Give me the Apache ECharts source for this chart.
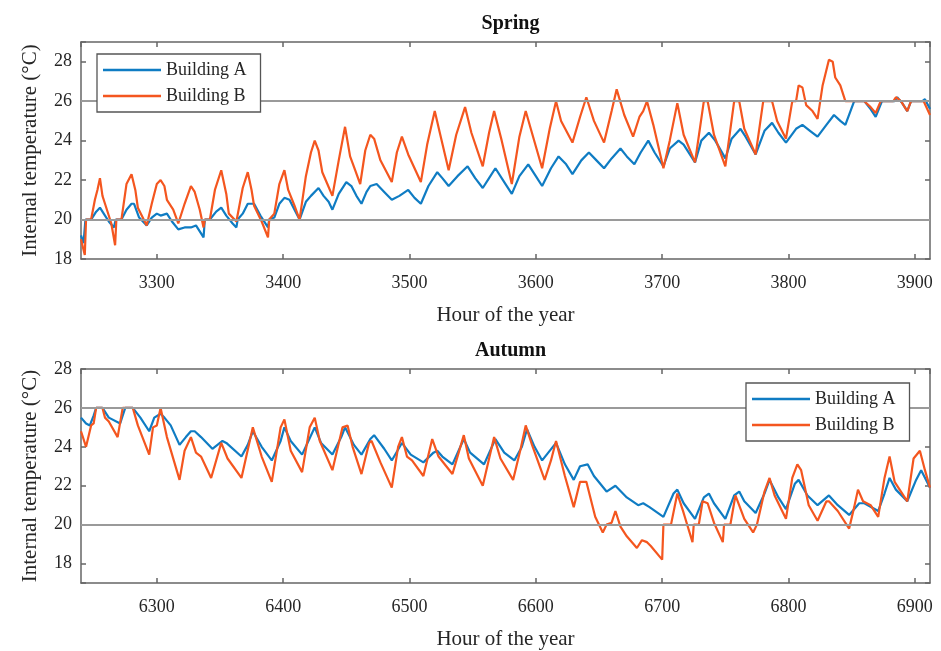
<!DOCTYPE html>
<html>
<head>
<meta charset="utf-8">
<script src="https://cdn.jsdelivr.net/npm/echarts@6/dist/echarts.min.js"></script>
<style>
  html, body { margin: 0; padding: 0; background: #ffffff; }
  #chart { width: 941px; height: 651px; }
</style>
</head>
<body>
<div id="chart"></div>
<script>
// Hourly internal temperature, key points per daily cycle: [hour of year, °C]
const springA = [
  [3240, 19.2], [3242, 18.8], [3243.5, 20.0], [3248, 20.0], [3252, 20.4], [3255, 20.6], [3258, 20.3], [3262, 19.9],
  [3266, 19.6], [3267.5, 20.0], [3272, 20.0], [3276, 20.5], [3280, 20.8], [3282, 20.8], [3286, 20.1], [3292, 19.7],
  [3296, 20.1], [3300, 20.3], [3303, 20.2], [3308, 20.3], [3312, 19.9], [3317, 19.5], [3322, 19.6], [3327, 19.6],
  [3331, 19.7], [3337, 19.1], [3338, 20.0], [3342, 20.0], [3347, 20.4], [3351, 20.6], [3355, 20.2], [3360, 19.8],
  [3363, 19.6], [3364, 20.0], [3368, 20.3], [3372, 20.8], [3377, 20.8], [3382, 20.2], [3388, 19.6], [3389, 20.0],
  [3393, 20.1], [3397, 20.8], [3401, 21.1], [3405, 21.0], [3409, 20.5], [3413, 20.0], [3418, 20.9], [3422, 21.2],
  [3428, 21.6], [3432, 21.2], [3436, 20.9], [3439, 20.5], [3444, 21.3], [3450, 21.9], [3454, 21.7], [3458, 21.2],
  [3462, 20.8], [3466, 21.4], [3469, 21.7], [3474, 21.8], [3480, 21.4], [3486, 21.0], [3492, 21.2], [3499, 21.5],
  [3504, 21.1], [3509, 20.8], [3515, 21.7], [3522, 22.4], [3526, 22.1], [3531, 21.7], [3538, 22.2], [3546, 22.7],
  [3552, 22.1], [3558, 21.6], [3563, 22.1], [3568, 22.6], [3575, 21.9], [3581, 21.3], [3587, 22.2], [3594, 22.8],
  [3600, 22.2], [3605, 21.7], [3612, 22.6], [3618, 23.2], [3624, 22.8], [3629, 22.3], [3636, 23.0], [3642, 23.4],
  [3648, 23.0], [3654, 22.6], [3660, 23.1], [3667, 23.6], [3672, 23.2], [3678, 22.8], [3683, 23.4], [3689, 24.0],
  [3694, 23.4], [3701, 22.7], [3706, 23.6], [3713, 24.0], [3717, 23.8], [3726, 22.9], [3731, 24.0], [3737, 24.4],
  [3742, 24.0], [3750, 23.1], [3755, 24.1], [3762, 24.6], [3766, 24.2], [3774, 23.3], [3781, 24.5], [3787, 24.9],
  [3792, 24.4], [3798, 23.9], [3806, 24.6], [3811, 24.8], [3817, 24.5], [3823, 24.2], [3830, 24.8], [3836, 25.3],
  [3841, 25.0], [3845, 24.8], [3852, 26.0], [3860, 26.0], [3865, 25.6], [3869, 25.2], [3874, 26.0], [3884, 26.0],
  [3886, 26.2], [3890, 25.9], [3894, 25.5], [3897, 26.0], [3906, 26.0], [3908, 26.1], [3912, 25.6]
];

const springB = [
  [3240, 19.0], [3243, 18.2], [3244, 20.0], [3248, 20.0], [3251, 21.0], [3253, 21.5], [3255, 22.1], [3257, 21.2],
  [3259, 20.8], [3264, 19.8], [3267, 18.7], [3268, 20.0], [3272, 20.0], [3276, 21.8], [3280, 22.3], [3283, 21.5],
  [3285, 20.6], [3292, 19.7], [3296, 20.8], [3300, 21.8], [3303, 22.0], [3306, 21.7], [3308, 21.0], [3313, 20.5],
  [3317, 19.8], [3322, 20.8], [3327, 21.7], [3330, 21.4], [3334, 20.5], [3337, 19.6], [3338, 20.0], [3342, 20.0],
  [3346, 21.5], [3351, 22.5], [3355, 21.3], [3357, 20.3], [3363, 19.9], [3364, 20.0], [3368, 21.6], [3372, 22.4],
  [3375, 21.5], [3377, 20.7], [3383, 19.9], [3388, 19.1], [3389, 20.0], [3393, 20.3], [3397, 21.8], [3401, 22.5],
  [3404, 21.5], [3409, 20.7], [3413, 20.0], [3418, 22.2], [3422, 23.4], [3425, 24.0], [3428, 23.5], [3431, 22.4],
  [3435, 21.8], [3439, 21.2], [3444, 23.0], [3449, 24.7], [3453, 23.2], [3457, 22.5], [3461, 21.8], [3465, 23.5],
  [3469, 24.3], [3472, 24.1], [3477, 23.0], [3486, 21.9], [3490, 23.4], [3494, 24.2], [3499, 23.3], [3509, 21.9],
  [3514, 23.8], [3520, 25.5], [3524, 24.4], [3531, 22.5], [3537, 24.3], [3544, 25.7], [3549, 24.4], [3558, 22.7],
  [3563, 24.4], [3567, 25.5], [3573, 24.0], [3581, 21.8], [3587, 24.2], [3592, 25.5], [3596, 24.6], [3605, 22.6],
  [3611, 24.6], [3616, 26.0], [3620, 25.0], [3629, 23.9], [3635, 25.2], [3640, 26.2], [3646, 25.0], [3654, 23.9],
  [3660, 25.5], [3664, 26.6], [3670, 25.3], [3677, 24.2], [3682, 25.2], [3685, 25.5], [3688, 26.0], [3693, 24.8],
  [3701, 22.6], [3706, 24.0], [3712, 25.9], [3717, 24.3], [3726, 22.9], [3733, 26.0], [3736, 26.0], [3741, 24.3],
  [3750, 22.7], [3757, 26.0], [3761, 26.0], [3765, 24.6], [3774, 23.3], [3780, 26.0], [3787, 26.0], [3791, 25.0],
  [3798, 24.1], [3803, 26.0], [3806, 26.0], [3808, 26.8], [3811, 26.7], [3814, 25.8], [3819, 25.5], [3823, 25.1],
  [3827, 26.8], [3832, 28.1], [3835, 28.0], [3837, 27.2], [3841, 26.8], [3845, 26.0], [3860, 26.0], [3865, 25.7],
  [3869, 25.4], [3873, 26.0], [3883, 26.0], [3885, 26.2], [3889, 26.0], [3894, 25.5], [3897, 26.0], [3907, 26.0],
  [3912, 25.3]
];

const autumnA = [
  [6240, 25.5], [6244, 25.2], [6247, 25.1], [6250, 25.6], [6252, 26.0], [6257, 26.0], [6262, 25.5], [6271, 25.2],
  [6275, 26.0], [6281, 26.0], [6287, 25.5], [6294, 24.8], [6298, 25.5], [6303, 25.7], [6306, 25.5], [6311, 25.1],
  [6318, 24.1], [6323, 24.5], [6327, 24.8], [6330, 24.8], [6335, 24.5], [6344, 23.9], [6352, 24.3], [6355, 24.2],
  [6367, 23.5], [6372, 24.1], [6376, 24.8], [6383, 24.0], [6391, 23.3], [6398, 24.3], [6401, 25.0], [6406, 24.3],
  [6415, 23.6], [6420, 24.3], [6425, 25.0], [6430, 24.2], [6439, 23.6], [6446, 24.5], [6449, 25.0], [6456, 24.1],
  [6462, 23.6], [6469, 24.4], [6472, 24.6], [6480, 23.9], [6486, 23.3], [6494, 24.2], [6501, 23.6], [6511, 23.2],
  [6519, 23.7], [6522, 23.8], [6526, 23.5], [6534, 23.1], [6543, 24.4], [6548, 23.7], [6559, 23.1], [6568, 24.4],
  [6575, 23.7], [6583, 23.3], [6589, 24.0], [6593, 24.9], [6599, 24.0], [6605, 23.3], [6616, 24.2], [6623, 23.1],
  [6630, 22.3], [6635, 23.0], [6641, 23.1], [6646, 22.5], [6656, 21.7], [6663, 22.0], [6672, 21.4], [6681, 21.0],
  [6685, 21.1], [6690, 20.9], [6701, 20.4], [6709, 21.6], [6712, 21.8], [6717, 21.1], [6726, 20.3], [6733, 21.4],
  [6737, 21.6], [6741, 21.1], [6750, 20.3], [6757, 21.5], [6761, 21.7], [6765, 21.2], [6774, 20.6], [6781, 21.6],
  [6785, 22.3], [6792, 21.4], [6798, 20.8], [6805, 22.1], [6808, 22.3], [6815, 21.5], [6823, 21.0], [6832, 21.5],
  [6839, 21.0], [6848, 20.5], [6856, 21.1], [6860, 21.1], [6871, 20.7], [6876, 21.6], [6880, 22.4], [6885, 21.8],
  [6894, 21.2], [6901, 22.3], [6905, 22.8], [6912, 21.9]
];

const autumnB = [
  [6240, 24.8], [6244, 24.0], [6248, 25.1], [6250, 25.2], [6252, 26.0], [6257, 26.0], [6259, 25.5], [6262, 25.3],
  [6269, 24.5], [6273, 26.0], [6281, 26.0], [6285, 25.1], [6294, 23.6], [6297, 25.0], [6300, 25.1], [6303, 26.0],
  [6308, 24.5], [6318, 22.3], [6322, 23.8], [6327, 24.5], [6331, 23.7], [6335, 23.5], [6343, 22.4], [6351, 24.2],
  [6356, 23.4], [6367, 22.4], [6376, 25.0], [6383, 23.5], [6391, 22.2], [6398, 25.0], [6401, 25.4], [6406, 23.8],
  [6415, 22.7], [6421, 25.0], [6425, 25.5], [6429, 24.3], [6439, 22.8], [6447, 25.0], [6451, 25.1], [6455, 24.0],
  [6462, 22.6], [6468, 24.2], [6470, 24.3], [6477, 23.2], [6486, 21.9], [6491, 24.0], [6494, 24.5], [6498, 23.5],
  [6502, 23.3], [6511, 22.5], [6518, 24.4], [6523, 23.5], [6534, 22.6], [6543, 24.6], [6547, 23.4], [6558, 22.0],
  [6567, 24.5], [6572, 23.4], [6582, 22.3], [6588, 23.9], [6592, 25.1], [6597, 24.1], [6607, 22.3], [6612, 23.3],
  [6616, 24.3], [6623, 22.5], [6630, 20.9], [6635, 22.2], [6640, 22.2], [6647, 20.4], [6653, 19.6], [6656, 20.0],
  [6660, 20.1], [6663, 20.7], [6667, 19.9], [6672, 19.4], [6680, 18.8], [6684, 19.2], [6688, 19.1], [6691, 18.9],
  [6700, 18.2], [6701, 20.0], [6707, 20.0], [6712, 21.6], [6717, 20.6], [6724, 19.1], [6725, 20.0], [6729, 20.0],
  [6732, 21.2], [6736, 21.1], [6741, 20.1], [6748, 19.1], [6749, 20.0], [6754, 20.0], [6758, 21.5], [6765, 20.3],
  [6772, 19.6], [6775, 20.0], [6781, 21.7], [6785, 22.4], [6789, 21.5], [6798, 20.3], [6803, 22.4], [6807, 23.1],
  [6810, 22.8], [6816, 21.0], [6823, 20.2], [6830, 21.2], [6832, 21.2], [6839, 20.7], [6848, 19.8], [6852, 20.9],
  [6855, 21.8], [6859, 21.2], [6865, 21.0], [6871, 20.4], [6876, 22.4], [6880, 23.5], [6884, 22.2], [6894, 21.2],
  [6899, 23.4], [6904, 23.8], [6908, 22.8], [6912, 21.9]
];

const panelTitles = ['Spring', 'Autumn'];
const seriesNames = ['Building A', 'Building B'];
const hourRanges = [[3240, 3912], [6240, 6912]];
const tempRanges = [[18, 29], [17, 28]];
const setpoints = [20, 26];
const xAxisName = 'Hour of the year';
const yAxisName = 'Internal temperature (°C)';

const FONT = 'Liberation Serif';
const AXIS_COLOR = '#666666';
const TEXT_COLOR = '#262626';
const COLORS = ['#0F7CC3', '#F4561F'];

const grids = [
  { left: 81, top: 42, width: 849, height: 217 },
  { left: 81, top: 369, width: 849, height: 219 }
];

const panels = [
  { a: springA, b: springB, legend: { left: 97, top: 54 } },
  { a: autumnA, b: autumnB, legend: { left: 746, top: 383 } }
];

const xAxes = [];
const yAxes = [];
const series = [];
const titles = [];
const legends = [];

panels.forEach((p, i) => {
  const g = grids[i];
  // bottom axis with labels, then a mirrored top axis closing the box
  xAxes.push({
    type: 'value', gridIndex: i, position: 'bottom',
    min: hourRanges[i][0], max: hourRanges[i][1],
    minInterval: 100, maxInterval: 100, splitNumber: 6,
    name: xAxisName, nameLocation: 'middle', nameGap: 46,
    nameTextStyle: { fontFamily: FONT, fontSize: 21, color: TEXT_COLOR },
    axisLine: { show: true, onZero: false, lineStyle: { color: AXIS_COLOR, width: 1.5 } },
    axisTick: { show: true, inside: true, length: 5, lineStyle: { color: AXIS_COLOR, width: 1.5 } },
    axisLabel: {
      fontFamily: FONT, fontSize: 18, color: TEXT_COLOR, margin: 15,
      showMinLabel: false, showMaxLabel: false,
      formatter: v => String(v)
    },
    splitLine: { show: false }
  });
  xAxes.push({
    type: 'value', gridIndex: i, position: 'top',
    min: hourRanges[i][0], max: hourRanges[i][1],
    minInterval: 100, maxInterval: 100, splitNumber: 6,
    axisLine: { show: true, onZero: false, lineStyle: { color: AXIS_COLOR, width: 1.5 } },
    axisTick: { show: true, inside: true, length: 5, lineStyle: { color: AXIS_COLOR, width: 1.5 } },
    axisLabel: { show: false },
    splitLine: { show: false }
  });
  yAxes.push({
    type: 'value', gridIndex: i, position: 'left',
    min: tempRanges[i][0], max: tempRanges[i][1],
    minInterval: 2, maxInterval: 2, splitNumber: 5,
    name: yAxisName, nameLocation: 'middle', nameGap: 40, nameRotate: 90,
    nameTextStyle: { fontFamily: FONT, fontSize: 21, color: TEXT_COLOR },
    axisLine: { show: true, onZero: false, lineStyle: { color: AXIS_COLOR, width: 1.5 } },
    axisTick: { show: true, inside: true, length: 5, lineStyle: { color: AXIS_COLOR, width: 1.5 } },
    axisLabel: {
      fontFamily: FONT, fontSize: 18, color: TEXT_COLOR, margin: 9,
      formatter: v => (v % 2 === 0 ? String(v) : '')
    },
    splitLine: { show: false }
  });
  yAxes.push({
    type: 'value', gridIndex: i, position: 'right',
    min: tempRanges[i][0], max: tempRanges[i][1],
    minInterval: 2, maxInterval: 2, splitNumber: 5,
    axisLine: { show: true, onZero: false, lineStyle: { color: AXIS_COLOR, width: 1.5 } },
    axisTick: { show: true, inside: true, length: 5, lineStyle: { color: AXIS_COLOR, width: 1.5 } },
    axisLabel: { show: false },
    splitLine: { show: false }
  });

  // heating / cooling setpoint lines behind the curves
  series.push({
    type: 'line', name: 'setpoints-' + i, xAxisIndex: 2 * i, yAxisIndex: 2 * i,
    data: [], silent: true, z: 1,
    markLine: {
      silent: true, symbol: ['none', 'none'], label: { show: false },
      lineStyle: { color: '#9a9a9a', width: 1.8, type: 'solid' },
      data: setpoints.map(v => ({ yAxis: v }))
    }
  });
  [p.a, p.b].forEach((d, k) => {
    series.push({
      type: 'line', name: seriesNames[k], xAxisIndex: 2 * i, yAxisIndex: 2 * i,
      data: d, showSymbol: false, symbol: 'none', z: 3 + k,
      lineStyle: { color: COLORS[k], width: 2.2 },
      itemStyle: { color: COLORS[k] }
    });
  });

  titles.push({
    text: panelTitles[i], left: g.left + g.width / 2, top: g.top - 33, textAlign: 'center',
    textStyle: { fontFamily: FONT, fontSize: 20, fontWeight: 'bold', color: '#111111' }
  });
  // legend box sits on its own layer so it hides the lines beneath it
  legends.push({
    data: seriesNames, orient: 'vertical',
    left: p.legend.left, top: p.legend.top,
    zlevel: 1, z: 10,
    icon: 'rect', itemWidth: 58, itemHeight: 2.5, itemGap: 8,
    padding: [7, 14, 7, 6],
    backgroundColor: '#ffffff', borderColor: '#555555', borderWidth: 1.3,
    textStyle: { fontFamily: FONT, fontSize: 18, color: TEXT_COLOR },
    selectedMode: false
  });
});

const chart = echarts.init(document.getElementById('chart'), null, { renderer: 'canvas' });
chart.setOption({
  backgroundColor: '#ffffff',
  animation: false,
  color: COLORS,
  title: titles,
  legend: legends,
  grid: grids,
  xAxis: xAxes,
  yAxis: yAxes,
  series: series
});
</script>
</body>
</html>
